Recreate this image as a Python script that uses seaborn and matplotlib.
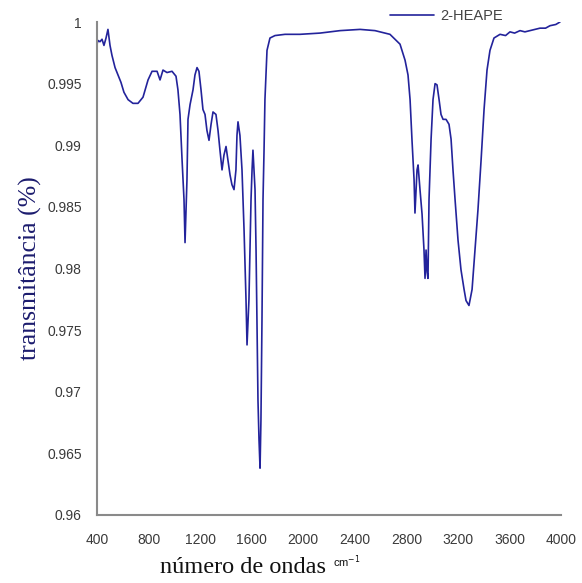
import matplotlib
matplotlib.use("Agg")
import matplotlib.pyplot as plt
import seaborn as sns
import pandas as pd

# --- FTIR spectrum of 2-HEAPE ---
wavenumber = [
    400, 408, 423, 439, 454, 470, 485, 501, 516, 540, 563, 586, 609, 641, 679, 718,
    757, 796, 827, 866, 889, 912, 943, 982, 1013, 1028, 1044, 1060, 1075, 1083,
    1098, 1106, 1122, 1145, 1160, 1176, 1191, 1207, 1222, 1238, 1253, 1269, 1285,
    1300, 1323, 1339, 1354, 1370, 1385, 1401, 1416, 1432, 1447, 1463, 1478, 1486,
    1494, 1509, 1525, 1541, 1556, 1564, 1579, 1587, 1595, 1603, 1610, 1626, 1634,
    1641, 1649, 1657, 1665, 1672, 1680, 1688, 1696, 1703, 1719, 1742, 1781, 1859,
    1975, 2130, 2286, 2441, 2557, 2673, 2751, 2790, 2813, 2829, 2844, 2860, 2867,
    2883, 2891, 2906, 2922, 2937, 2945, 2953, 2961, 2968, 2976, 2992, 3007, 3023,
    3038, 3054, 3069, 3085, 3108, 3131, 3147, 3162, 3178, 3201, 3224, 3248, 3263,
    3286, 3310, 3333, 3356, 3380, 3403, 3426, 3449, 3480, 3527, 3570, 3604, 3640,
    3682, 3720, 3760, 3800, 3837, 3880, 3915, 3960, 3992,
]
transmittance = [
    0.9982, 0.9985, 0.9984, 0.9986, 0.9981, 0.9987, 0.9994, 0.9981, 0.9973, 0.9963,
    0.9957, 0.9951, 0.9943, 0.9937, 0.9934, 0.9934, 0.9939, 0.9953, 0.9960, 0.9960,
    0.9953, 0.9961, 0.9959, 0.9960, 0.9956, 0.9945, 0.9925, 0.9888, 0.9856, 0.9821,
    0.9872, 0.9921, 0.9933, 0.9945, 0.9957, 0.9963, 0.9960, 0.9945, 0.9929, 0.9925,
    0.9912, 0.9904, 0.9917, 0.9927, 0.9925, 0.9912, 0.9896, 0.9880, 0.9892, 0.9899,
    0.9888, 0.9876, 0.9868, 0.9864, 0.9880, 0.9908, 0.9919, 0.9908, 0.9880, 0.9831,
    0.9775, 0.9738, 0.9775, 0.9815, 0.9856, 0.9880, 0.9896, 0.9864, 0.9815, 0.9758,
    0.9693, 0.9661, 0.9638, 0.9677, 0.9758, 0.9856, 0.9896, 0.9937, 0.9977, 0.9987,
    0.9989, 0.9990, 0.9990, 0.9991, 0.9993, 0.9994, 0.9993, 0.9990, 0.9982, 0.9969,
    0.9957, 0.9937, 0.9904, 0.9872, 0.9845, 0.9880, 0.9884, 0.9864, 0.9844, 0.9815,
    0.9792, 0.9815, 0.9797, 0.9792, 0.9856, 0.9905, 0.9937, 0.9950, 0.9949, 0.9937,
    0.9925, 0.9921, 0.9921, 0.9917, 0.9905, 0.9880, 0.9856, 0.9823, 0.9799, 0.9783,
    0.9774, 0.9770, 0.9783, 0.9815, 0.9848, 0.9888, 0.9929, 0.9961, 0.9977, 0.9987,
    0.9990, 0.9989, 0.9992, 0.9991, 0.9993, 0.9992, 0.9993, 0.9994, 0.9995, 0.9995,
    0.9997, 0.9998, 1.0000,
]
series_name = "2-HEAPE"

x_ticks = [400, 800, 1200, 1600, 2000, 2400, 2800, 3200, 3600, 4000]
y_ticks = [0.96, 0.965, 0.97, 0.975, 0.98, 0.985, 0.99, 0.995, 1.0]
y_ticklabels = ["0.96", "0.965", "0.97", "0.975", "0.98", "0.985", "0.99", "0.995", "1"]

df = pd.DataFrame({"wn": wavenumber, "T": transmittance})

sns.set_style("white")
plt.rcParams["font.family"] = ["Liberation Sans", "DejaVu Sans"]

fig = plt.figure(figsize=(5.82, 5.83), dpi=100)
ax = fig.add_axes([97 / 582, 1 - 515 / 583, (561 - 97) / 582, (515 - 22) / 583])

sns.lineplot(data=df, x="wn", y="T", sort=False, estimator=None,
             color="#23239b", linewidth=1.2, label=series_name, ax=ax)

ax.set_xlim(400, 4000)
ax.set_ylim(0.96, 1.0)
ax.set_xticks(x_ticks)
ax.set_yticks(y_ticks)
ax.set_yticklabels(y_ticklabels)

for s in ["top", "right"]:
    ax.spines[s].set_visible(False)
for s in ["left", "bottom"]:
    ax.spines[s].set_color("#8a8a8a")
    ax.spines[s].set_linewidth(1.5)
ax.tick_params(axis="both", direction="out", length=5, width=1.2, color="#8a8a8a",
               labelsize=10, labelcolor="#3a3a3a", pad=6)
ax.tick_params(axis="x", pad=8)

ax.set_xlabel("")
ax.set_ylabel("transmitância (%)", family=["Liberation Serif"], fontsize=18.5,
              color="#1c1c6e", labelpad=4)
fig.text(0.418, 0.008, "número de ondas", family=["Liberation Serif"], fontsize=17.5,
         color="#111111", ha="center", va="bottom")
fig.text(0.572, 0.022, "cm$^{-1}$", fontsize=8, color="#111111", ha="left", va="bottom")

leg = ax.legend(loc="upper left", bbox_to_anchor=(383 / 582, 1 - 2 / 583),
                bbox_transform=fig.transFigure, frameon=False, fontsize=10.5,
                handlelength=3.0, borderpad=0, handletextpad=0.45)
for t in leg.get_texts():
    t.set_color("#444444")

fig.savefig("out.png", dpi=100)
